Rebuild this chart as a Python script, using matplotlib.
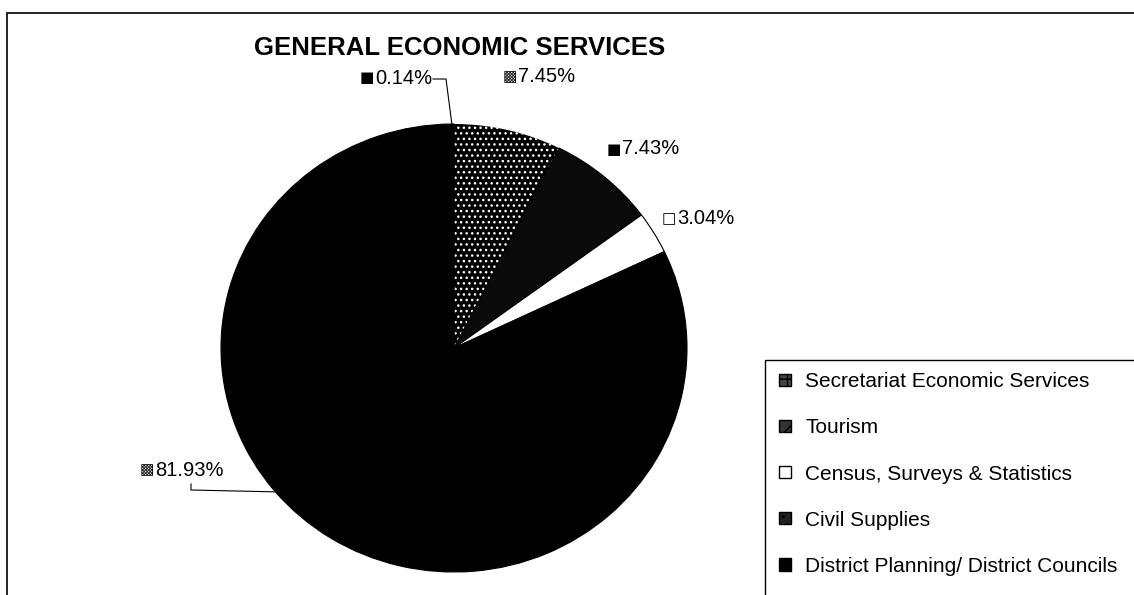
import matplotlib.pyplot as plt
import numpy as np
from matplotlib.patches import Patch, Rectangle

plt.rcParams['font.family'] = ['Liberation Sans', 'DejaVu Sans']

# slices, clockwise from 12 o'clock
categories = ['Secretariat Economic Services', 'Tourism',
              'Census, Surveys & Statistics', 'Civil Supplies',
              'District Planning/ District Councils']
shares = [7.45, 7.43, 3.04, 81.93, 0.14]
faces = ['black', '#0a0a0a', 'white', 'black', 'black']
hatches = ['...', None, None, None, None]
hatch_edges = ['white', 'black', 'black', 'black', 'black']
label_marks = ['\u25a9', '\u25a0', '\u25a1', '\u25a9', '\u25a0']

fig = plt.figure(figsize=(11.34, 5.95), dpi=100)
W, H = 1134.0, 595.0

# pie centre and radii in px (scan is slightly wider than tall)
RX, RY = 233.0, 224.0
cx, cy = 454.0, 348.0
ax = fig.add_axes([(cx - RX) / W, (H - cy - RY) / H, 2 * RX / W, 2 * RY / H])

wedges, _ = ax.pie(shares, startangle=90, counterclock=False, colors=faces,
                   wedgeprops=dict(linewidth=0.8, edgecolor='black'))
for w, h, ec in zip(wedges, hatches, hatch_edges):
    if h:
        w.set_hatch(h)
        w.set_edgecolor(ec)
        w.set_linewidth(0)
ax.set_xlim(-1, 1)
ax.set_ylim(-1, 1)
ax.set_aspect('auto')
ax.axis('off')


def px(x, y):
    return ((x - cx) / RX, (cy - y) / RY)


# label positions in px (left edge of the key square, vertical centre)
label_pos = [(503, 77), (607, 149), (662, 219), (140, 470), (360, 78)]
for i, (lx, ly) in enumerate(label_pos):
    tx, ty = px(lx, ly)
    ax.text(tx, ty, label_marks[i], fontsize=11, va='center', ha='left',
            family=['DejaVu Sans'], clip_on=False)
    ax.text(tx + 15 / RX, ty, '%.2f%%' % shares[i], fontsize=14.5,
            va='center', ha='left', clip_on=False)

# leader lines
ax.plot(*zip(px(433, 79), px(446, 79), px(452, 125)), color='black',
        lw=0.8, clip_on=False)
ax.plot(*zip(px(191, 484), px(191, 490), px(326, 493)), color='black',
        lw=0.8, clip_on=False)

fig.text(460 / W, 1 - 48 / H, 'GENERAL ECONOMIC SERVICES', fontsize=18.5,
         fontweight='bold', ha='center', va='center')

# outer frame and legend frame
fig.add_artist(Rectangle((7 / W, -0.1), 2, (H - 13) / H + 0.1,
                         transform=fig.transFigure, fill=False, lw=1.2,
                         color='black'))
fig.add_artist(Rectangle((765 / W, -0.1), 2, (H - 360) / H + 0.1,
                         transform=fig.transFigure, fill=False, lw=1.0,
                         color='black'))

handles = [Patch(facecolor=f, edgecolor='black', hatch=h)
           for f, h in zip(['#444444', '#333333', 'white', '#222222', 'black'],
                           ['++', '//', None, '..', None])]
fig.legend(handles, categories, loc='upper left',
           bbox_to_anchor=(771 / W, 1 - 364 / H), frameon=False,
           fontsize=15, handlelength=0.55, handleheight=0.55,
           handletextpad=0.7, labelspacing=1.3, borderaxespad=0)

fig.savefig('out.png', dpi=100)
